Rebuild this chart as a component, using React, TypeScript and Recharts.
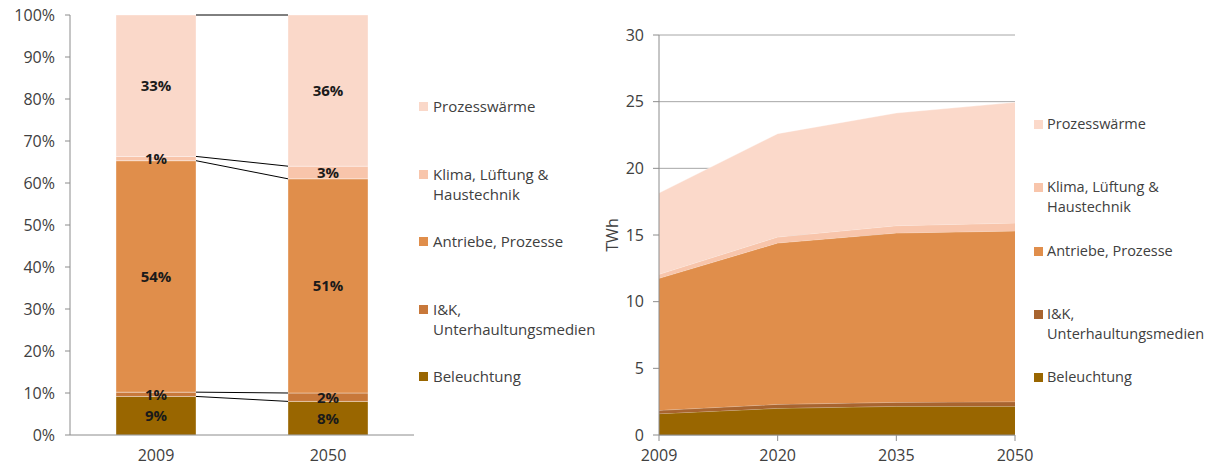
// 左：2009 / 2050 用電結構占比（100% 堆疊長條）；右：各用途 TWh 走勢（堆疊面積）
import {
  BarChart,
  Bar,
  AreaChart,
  Area,
  XAxis,
  YAxis,
  CartesianGrid,
  ReferenceLine,
  LabelList,
  Label,
} from 'recharts'

/** 占比圖：年份與各用途百分比（與標籤相同） */
const SHARE_YEARS = ['2009', '2050']
const shareBel = [9, 8]
const shareIuk = [1, 2]
const shareAntr = [54, 51]
const shareKlima = [1, 3]
const shareProz = [33, 36]
const SHARE_TICKS = [0, 0.1, 0.2, 0.3, 0.4, 0.5, 0.6, 0.7, 0.8, 0.9, 1]

/** 走勢圖：年份與各用途 TWh */
const TWH_YEARS = ['2009', '2020', '2035', '2050']
const twhBel = [1.6, 2.0, 2.15, 2.15]
const twhIuk = [0.25, 0.3, 0.3, 0.35]
const twhAntr = [9.9, 12.1, 12.7, 12.8]
const twhKlima = [0.3, 0.45, 0.55, 0.6]
const twhProz = [6.1, 7.75, 8.45, 9.05]
const TWH_TICKS = [0, 5, 10, 15, 20, 25, 30]

/** 系列設定：由下往上堆疊 */
const SERIES = [
  { key: 'bel', name: 'Beleuchtung', color: '#996600', areaColor: '#996600' },
  { key: 'iuk', name: 'I&K,\nUnterhaultungsmedien', color: '#C8783A', areaColor: '#A8642F' },
  { key: 'antr', name: 'Antriebe, Prozesse', color: '#E08E4B', areaColor: '#E08E4B' },
  { key: 'klima', name: 'Klima, Lüftung &\nHaustechnik', color: '#F8C5AB', areaColor: '#F8C5AB' },
  { key: 'proz', name: 'Prozesswärme', color: '#FAD8C9', areaColor: '#FBD9CA' },
]

const shareRows = SHARE_YEARS.map((year, i) => ({
  year,
  bel: shareBel[i],
  iuk: shareIuk[i],
  antr: shareAntr[i],
  klima: shareKlima[i],
  proz: shareProz[i],
}))

const twhRows = TWH_YEARS.map((year, i) => ({
  year,
  bel: twhBel[i],
  iuk: twhIuk[i],
  antr: twhAntr[i],
  klima: twhKlima[i],
  proz: twhProz[i],
}))

// 版面尺寸
const LEFT_W = 610
const LEFT_MARGIN = { top: 15, right: 196, left: 0, bottom: 0 }
const LEFT_Y_W = 70
const BAR_SIZE = 80
const RIGHT_W = 618
const RIGHT_MARGIN = { top: 35, right: 203, left: 0, bottom: 0 }
const RIGHT_Y_W = 59
const HEIGHT = 468

const AXIS_COLOR = '#8c8c8c'
const TEXT_COLOR = '#404040'
const FONT = "'Open Sans', sans-serif"

// 各分界線（累計占比，expand 之後的 0~1 值）
const boundaries = SERIES.map((_, k) =>
  shareRows.map(row => {
    const vals = SERIES.map(s => (row as any)[s.key] as number)
    const total = vals.reduce((a, b) => a + b, 0)
    const cum = vals.slice(0, k + 1).reduce((a, b) => a + b, 0)
    return cum / total
  })
)

// 連接線端點：長條右緣 → 下一根長條左緣
// 隱藏數值軸在 expand 模式下固定為 0~1，故以寬度比例表示
const leftPlotW = LEFT_W - LEFT_MARGIN.right - LEFT_MARGIN.left - LEFT_Y_W
const n = SHARE_YEARS.length
const barHalf = BAR_SIZE / 2 / leftPlotW
const lineFrom = 0.5 / n + barHalf
const lineTo = 1.5 / n - barHalf

function LegendBox({ left, top, pitch, fontSize, gap, useArea }: {
  left: number
  top: number
  pitch: number
  fontSize: number
  gap: number
  useArea?: boolean
}) {
  // 圖例由上往下：與堆疊順序相反
  const items = [...SERIES].reverse()
  return (
    <>
      {items.map((s, i) => (
        <div
          key={s.key}
          style={{
            position: 'absolute',
            left,
            top: top + i * pitch,
            display: 'flex',
            alignItems: 'flex-start',
            fontSize,
            lineHeight: '20px',
            color: TEXT_COLOR,
            whiteSpace: 'pre-line',
          }}
        >
          <span
            style={{
              width: 9,
              height: 9,
              marginTop: 6,
              marginRight: gap,
              background: useArea ? s.areaColor : s.color,
              flex: 'none',
            }}
          />
          <span>{s.name}</span>
        </div>
      ))}
    </>
  )
}

function ShareChart() {
  return (
    <BarChart
      width={LEFT_W}
      height={HEIGHT}
      data={shareRows}
      margin={LEFT_MARGIN}
      stackOffset="expand"
    >
      <XAxis
        dataKey="year"
        tick={{ fill: TEXT_COLOR, fontSize: 16 }}
        tickLine={false}
        tickMargin={9}
        axisLine={{ stroke: AXIS_COLOR }}
        height={33}
      />
      <XAxis xAxisId="pos" type="number" domain={[0, 1]} hide />
      <YAxis
        type="number"
        domain={[0, 1]}
        ticks={SHARE_TICKS}
        tickFormatter={(v: number) => `${Math.round(v * 100)}%`}
        tick={{ fill: TEXT_COLOR, fontSize: 16 }}
        tickSize={5}
        tickMargin={10}
        tickLine={{ stroke: AXIS_COLOR }}
        axisLine={{ stroke: AXIS_COLOR }}
        width={LEFT_Y_W}
      />
      {SERIES.map(s => (
        <Bar
          key={s.key}
          dataKey={s.key}
          stackId="share"
          fill={s.color}
          barSize={BAR_SIZE}
          stroke="#ffffff"
          strokeOpacity={0.35}
          strokeWidth={1}
          isAnimationActive={false}
        >
          <LabelList
            dataKey={s.key}
            position="center"
            formatter={(v: any) => `${v}%`}
            fill="#1a1a1a"
            fontSize={15}
            fontWeight={700}
          />
        </Bar>
      ))}
      {/* 兩根長條之間的分界連接線 */}
      {boundaries.map((b, k) => (
        <ReferenceLine
          key={k}
          xAxisId="pos"
          segment={[
            { x: lineFrom, y: b[0] },
            { x: lineTo, y: b[1] },
          ]}
          stroke="#000000"
          strokeWidth={1}
          ifOverflow="visible"
        />
      ))}
    </BarChart>
  )
}

function TwhChart() {
  return (
    <AreaChart width={RIGHT_W} height={HEIGHT} data={twhRows} margin={RIGHT_MARGIN}>
      <CartesianGrid vertical={false} stroke="#a6a6a6" />
      <XAxis
        dataKey="year"
        tick={{ fill: TEXT_COLOR, fontSize: 16 }}
        tickSize={6}
        tickMargin={9}
        tickLine={{ stroke: AXIS_COLOR }}
        axisLine={{ stroke: AXIS_COLOR }}
        height={33}
      />
      <YAxis
        type="number"
        domain={[0, 30]}
        ticks={TWH_TICKS}
        tick={{ fill: TEXT_COLOR, fontSize: 16 }}
        tickSize={6}
        tickMargin={9}
        tickLine={{ stroke: AXIS_COLOR }}
        axisLine={{ stroke: AXIS_COLOR }}
        width={RIGHT_Y_W}
      >
        <Label
          content={(props: any) => {
            const vb = props.viewBox
            const cx = vb.x + 12
            const cy = vb.y + vb.height / 2
            return (
              <text
                x={cx}
                y={cy}
                transform={`rotate(-90 ${cx} ${cy})`}
                textAnchor="middle"
                dominantBaseline="central"
                fill={TEXT_COLOR}
                fontSize={16}
              >
                TWh
              </text>
            )
          }}
        />
      </YAxis>
      {SERIES.map(s => (
        <Area
          key={s.key}
          type="linear"
          dataKey={s.key}
          stackId="twh"
          fill={s.areaColor}
          fillOpacity={1}
          stroke="#ffffff"
          strokeOpacity={0.35}
          strokeWidth={1}
          isAnimationActive={false}
        />
      ))}
    </AreaChart>
  )
}

export default function App() {
  return (
    <div
      style={{
        position: 'absolute',
        left: 0,
        top: 0,
        width: 1218,
        height: HEIGHT,
        background: '#ffffff',
        fontFamily: FONT,
      }}
    >
      <div style={{ position: 'absolute', left: 0, top: 0 }}>
        <ShareChart />
      </div>
      <div style={{ position: 'absolute', left: 600, top: 0 }}>
        <TwhChart />
      </div>
      <LegendBox left={419} top={96} pitch={67.5} fontSize={15} gap={5} />
      <LegendBox left={1034} top={114} pitch={63.3} fontSize={14.5} gap={4} useArea />
    </div>
  )
}
